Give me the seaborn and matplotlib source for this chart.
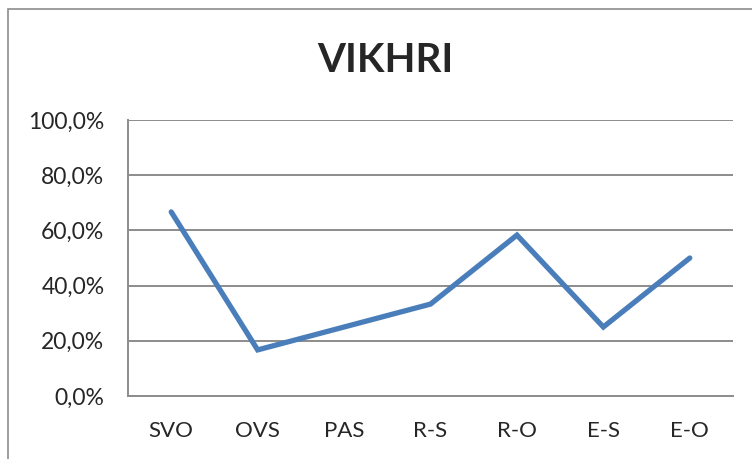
import numpy as np
import pandas as pd
import seaborn as sns
import matplotlib.pyplot as plt
from matplotlib.patches import Rectangle
from matplotlib.ticker import FixedLocator, FuncFormatter

categories = ['SVO', 'OVS', 'PAS', 'R-S', 'R-O', 'E-S', 'E-O']
values = [66.7, 16.7, 25.0, 33.3, 58.3, 25.0, 50.0]
y_ticks = [0, 20, 40, 60, 80, 100]

sns.set_style('white')
plt.rcParams['font.family'] = ['Liberation Sans Narrow', 'Lato', 'DejaVu Sans']

df = pd.DataFrame({'pos': np.arange(len(categories)), 'share': values})

fig = plt.figure(figsize=(7.52, 4.59), dpi=100)
ax = fig.add_axes([128 / 752, 1 - 396 / 459, 605 / 752, 276 / 459])

sns.lineplot(data=df, x='pos', y='share', color='#4a7ebb', linewidth=3.8,
             solid_capstyle='round', solid_joinstyle='miter', ax=ax)

ax.set_xlim(-0.5, len(categories) - 0.5)
ax.set_ylim(0, 100)
ax.set_yticks(y_ticks)
ax.yaxis.set_major_formatter(FuncFormatter(lambda v, p: f'{v:.1f}%'.replace('.', ',')))
ax.grid(axis='y', color='#8c8c8c', linewidth=1.4)
ax.set_axisbelow(True)

# category labels centred, tick marks between categories
ax.set_xticks(np.arange(len(categories)))
ax.set_xticklabels(categories)
ax.xaxis.set_minor_locator(FixedLocator(np.arange(len(categories) + 1) - 0.5))
ax.tick_params(axis='x', which='major', length=0, pad=18, labelsize=16)
ax.tick_params(axis='x', which='minor', length=8, width=1.4, color='#8c8c8c', direction='out')
ax.tick_params(axis='y', length=6, width=1.4, color='#8c8c8c', labelsize=16.5, pad=11)
ax.set_xlabel('')
ax.set_ylabel('')

for side in ['top', 'right']:
    ax.spines[side].set_visible(False)
for side in ['left', 'bottom']:
    ax.spines[side].set_color('#8c8c8c')
    ax.spines[side].set_linewidth(1.4)

fig.text(385 / 752, 1 - 60 / 459, 'VIKHRI', ha='center', va='center',
         fontsize=29, fontweight='bold')

fig.patches.append(Rectangle((8 / 752, -0.05), 1.0, 1 - 9 / 459 + 0.05,
                             transform=fig.transFigure, fill=False,
                             edgecolor='#8c8c8c', linewidth=1.2))

fig.savefig('out.png', dpi=100)
